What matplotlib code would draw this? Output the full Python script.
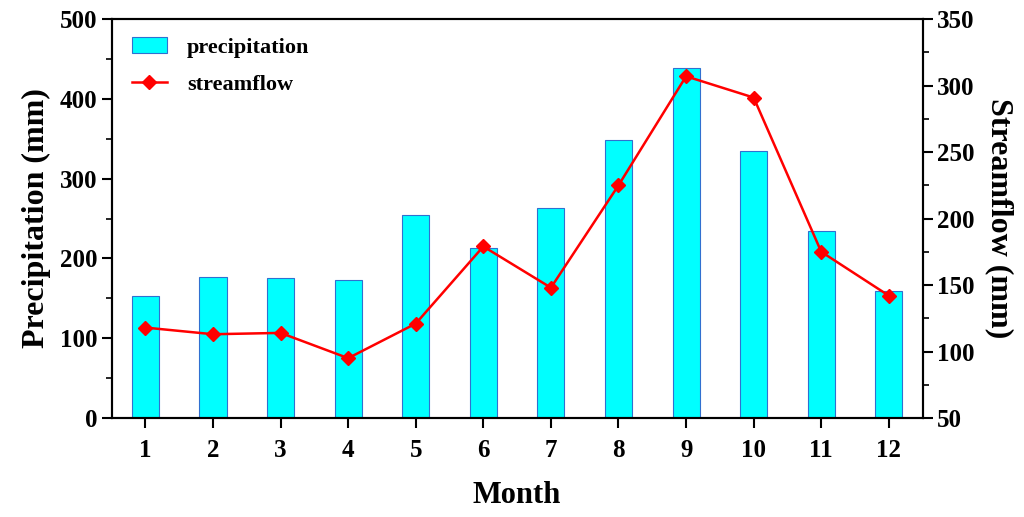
import matplotlib
matplotlib.use("Agg")
import matplotlib.pyplot as plt
from matplotlib.ticker import MultipleLocator

months = [1, 2, 3, 4, 5, 6, 7, 8, 9, 10, 11, 12]
precipitation = [153, 177, 175, 173, 254, 213, 263, 348, 439, 335, 234, 159]
streamflow = [118, 113, 114, 95, 121, 179, 148, 225, 307, 291, 175, 142]

plt.rcParams["font.family"] = ["Liberation Serif", "DejaVu Serif"]
plt.rcParams["font.weight"] = "bold"

fig = plt.figure(figsize=(10.24, 5.17), dpi=100)
ax = fig.add_axes([0.109, 0.1915, 0.792, 0.7715])

bars = ax.bar(months, precipitation, width=0.4, color="#00ffff",
              edgecolor="#3070d0", linewidth=0.8, label="precipitation", zorder=2)
ax.set_xlim(0.5, 12.5)
ax.set_ylim(0, 500)
ax.set_xticks(months)
ax.yaxis.set_major_locator(MultipleLocator(100))
ax.yaxis.set_minor_locator(MultipleLocator(50))
ax.set_xlabel("Month", fontsize=22, fontweight="bold", labelpad=14)
ax.set_ylabel("Precipitation (mm)", fontsize=23, fontweight="bold", labelpad=6)

ax2 = ax.twinx()
line, = ax2.plot(months, streamflow, color="#ff0000", marker="D", markersize=7,
                 linewidth=1.8, label="streamflow", zorder=3)
ax2.set_ylim(50, 350)
ax2.yaxis.set_major_locator(MultipleLocator(50))
ax2.yaxis.set_minor_locator(MultipleLocator(25))
ax2.set_ylabel("Streamflow (mm)", fontsize=23, fontweight="bold",
               rotation=270, labelpad=28)

for a in (ax, ax2):
    for sp in a.spines.values():
        sp.set_linewidth(1.5)
    a.tick_params(which="major", direction="out", length=7, width=1.5, labelsize=18)
    a.tick_params(which="minor", direction="out", length=4, width=1.2)
    for lbl in a.get_xticklabels() + a.get_yticklabels():
        lbl.set_fontweight("bold")
ax.tick_params(axis="x", which="major", pad=8)

leg = ax.legend(handles=[bars, line], loc="upper left", frameon=False,
                prop={"weight": "bold", "size": 16},
                bbox_to_anchor=(0.0, 1.005), handlelength=1.6, handletextpad=0.9,
                labelspacing=0.75)

fig.savefig("out.png", dpi=100)
